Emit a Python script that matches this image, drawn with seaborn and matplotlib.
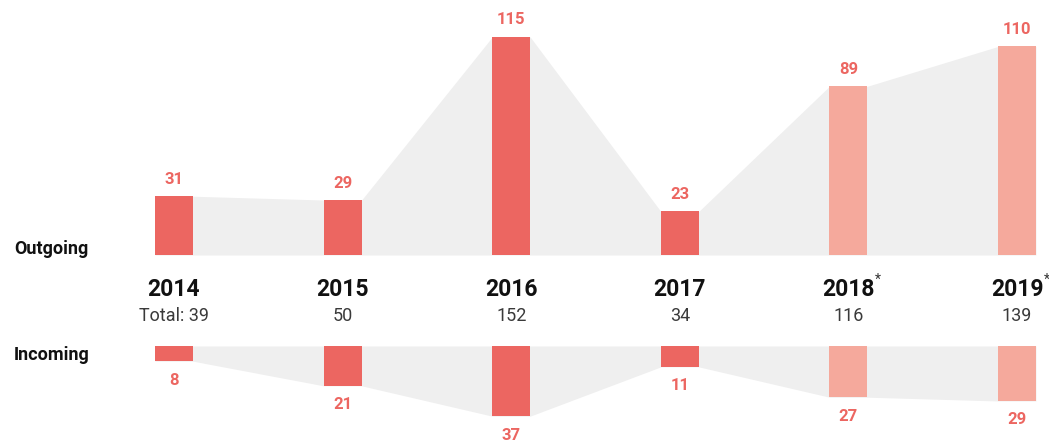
import matplotlib.pyplot as plt
import numpy as np
import seaborn as sns

years = ["2014", "2015", "2016", "2017", "2018", "2019"]
outgoing = [31, 29, 115, 23, 89, 110]
incoming = [8, 21, 37, 11, 27, 29]
totals = ["Total: 39", "50", "152", "34", "116", "139"]
estimated = [False, False, False, False, True, True]

RED = "#ec6661"
LIGHT = "#f5a99c"
GREY = "#efefef"

sns.set_theme(style="white")
plt.rcParams["font.family"] = ["Roboto", "DejaVu Sans"]

W, H = 1049, 448
fig = plt.figure(figsize=(W / 100, H / 100), dpi=100)

# pixel layout
x0, dx = 174, 168.6      # first bar centre, spacing
px_per_unit = 1.896
top_base, bot_base = 255, 346
bar_w = 0.225

xlim = (-x0 / dx, (W - x0) / dx)
ax_top = fig.add_axes([0, 1 - top_base / H, 1, top_base / H])
ax_bot = fig.add_axes([0, 0, 1, (H - bot_base) / H])

colors = [LIGHT if e else RED for e in estimated]
pos = np.arange(len(years))


def draw(ax, vals, ymax, invert):
    # grey band joining bar ends
    xs, ys = [], []
    for p, v in zip(pos, vals):
        xs += [p - bar_w / 2, p + bar_w / 2]
        ys += [v, v]
    ax.fill_between(xs, 0, ys, color=GREY, lw=0, zorder=0)
    sns.barplot(x=pos, y=vals, hue=pos, palette=colors, legend=False,
                width=bar_w, ax=ax, zorder=2, saturation=1, linewidth=0)
    ax.set_xlim(*xlim)
    if invert:
        ax.set_ylim(ymax, 0)
    else:
        ax.set_ylim(0, ymax)
    ax.axis("off")
    for p, v in zip(pos, vals):
        off = -19 if invert else 17
        ax.annotate(str(v), (p, v), xytext=(0, off * 0.72), textcoords="offset points",
                    ha="center", va="center", color=RED, fontsize=12, fontweight="bold")


draw(ax_top, outgoing, top_base / px_per_unit, False)
draw(ax_bot, incoming, (H - bot_base) / px_per_unit, True)

# year and total labels
for i, (yr, tot, est) in enumerate(zip(years, totals, estimated)):
    xc = (x0 + dx * i) / W
    fig.text(xc, 1 - 289 / H, yr, ha="center", va="center", fontsize=16.5,
             fontweight="bold", color="#111111")
    fig.text(xc, 1 - 316 / H, tot, ha="center", va="center", fontsize=13,
             fontweight="normal", color="#3a3a3a")
    if est:
        fig.text(xc + 29.5 / W, 1 - 280 / H, "*", ha="center", va="center",
                 fontsize=10, color="#333333")

fig.text(14 / W, 1 - 249 / H, "Outgoing", ha="left", va="center", fontsize=13,
         fontweight="bold", color="#111111")
fig.text(14 / W, 1 - 355 / H, "Incoming", ha="left", va="center", fontsize=13,
         fontweight="bold", color="#111111")

fig.savefig("out.png", dpi=100)
